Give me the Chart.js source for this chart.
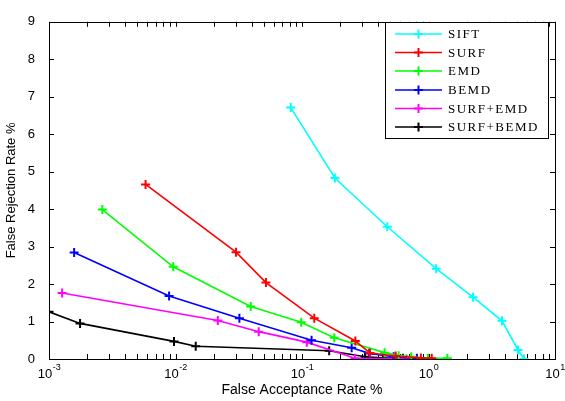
<!DOCTYPE html>
<html>
<head>
<meta charset="utf-8">
<script src="https://cdn.jsdelivr.net/npm/chart.js@4.4.1/dist/chart.umd.min.js"></script>
<style>
  html, body { margin: 0; padding: 0; background: #fff; }
  #wrap { width: 565px; height: 401px; }
</style>
</head>
<body>
<div id="wrap"><canvas id="c" width="565" height="401"></canvas></div>
<script>
// ---- data ----
const seriesNames = ['SIFT', 'SURF', 'EMD', 'BEMD', 'SURF+EMD', 'SURF+BEMD'];
const seriesColors = ['#00FFFF', '#FF0000', '#00FF00', '#0000FF', '#FF00FF', '#000000'];

const siftFAR = [0.0815, 0.182, 0.472, 1.15, 2.25, 3.81, 5.1, 5.69];
const siftFRR = [6.71, 4.83, 3.53, 2.41, 1.65, 1.02, 0.24, 0.0];

const surfFAR = [0.0058, 0.0301, 0.0519, 0.125, 0.264, 0.345, 0.55, 0.87, 1.06];
const surfFRR = [4.66, 2.85, 2.04, 1.09, 0.48, 0.16, 0.08, 0.03, 0.02];

const emdFAR = [0.00264, 0.0096, 0.0393, 0.0986, 0.18, 0.45, 0.58, 0.73, 0.99, 1.41];
const emdFRR = [3.99, 2.46, 1.40, 0.98, 0.57, 0.17, 0.09, 0.06, 0.02, 0.02];

const bemdFAR = [0.00158, 0.0089, 0.032, 0.119, 0.247, 0.34, 0.53, 0.81];
const bemdFRR = [2.84, 1.68, 1.09, 0.50, 0.30, 0.15, 0.06, 0.02];

const surfEmdFAR = [0.00127, 0.0216, 0.0455, 0.109, 0.262, 0.50, 0.67];
const surfEmdFRR = [1.76, 1.03, 0.73, 0.45, 0.02, 0.01, 0.0];

const surfBemdFAR = [0.001, 0.00176, 0.00973, 0.01445, 0.164, 0.315, 0.436, 0.628];
const surfBemdFRR = [1.26, 0.95, 0.47, 0.34, 0.22, 0.06, 0.03, 0.02];

const xTickValues = [0.001, 0.01, 0.1, 1, 10];
const xTickBase = '10';
const xTickExponents = ['-3', '-2', '-1', '0', '1'];
const yTickValues = [0, 1, 2, 3, 4, 5, 6, 7, 8, 9];

const xTitle = 'False Acceptance Rate %';
const yTitle = 'False Rejection Rate %';

// ---- build datasets ----
const allX = [siftFAR, surfFAR, emdFAR, bemdFAR, surfEmdFAR, surfBemdFAR];
const allY = [siftFRR, surfFRR, emdFRR, bemdFRR, surfEmdFRR, surfBemdFRR];
const datasets = seriesNames.map((name, i) => ({
  label: name,
  data: allX[i].map((xv, j) => ({ x: xv, y: allY[i][j] })),
  borderColor: seriesColors[i],
  backgroundColor: seriesColors[i],
  borderWidth: 1.6,
  pointStyle: 'cross',
  pointRadius: 4.5,
  pointBorderWidth: 2,
  pointHoverRadius: 4.5,
  tension: 0,
  fill: false
}));

const sansFamily = '"Liberation Sans", Arial, sans-serif';

// ---- plugin: MATLAB-like box with inward ticks, power-of-ten labels, in-plot legend ----
const matlabBox = {
  id: 'matlabBox',
  beforeDatasetsDraw(chart) {
    const { ctx, chartArea: { left, right, top, bottom }, scales: { x, y } } = chart;
    const L = 5;
    ctx.save();
    ctx.strokeStyle = '#000';
    ctx.lineWidth = 1;
    ctx.beginPath();
    for (let e = -3; e <= 1; e++) {
      for (let m = 1; m <= 9; m++) {
        const v = m * Math.pow(10, e);
        if (v > 10.0001) break;
        const px = Math.round(x.getPixelForValue(v)) + 0.5;
        if (px < left || px > right + 1) continue;
        ctx.moveTo(px, bottom); ctx.lineTo(px, bottom - L);
        ctx.moveTo(px, top); ctx.lineTo(px, top + L);
      }
    }
    yTickValues.forEach(v => {
      const py = Math.round(y.getPixelForValue(v)) + 0.5;
      ctx.moveTo(left, py); ctx.lineTo(left + L, py);
      ctx.moveTo(right, py); ctx.lineTo(right - L, py);
    });
    ctx.stroke();

    // x tick labels as 10 with raised exponent
    ctx.fillStyle = '#000';
    ctx.textBaseline = 'alphabetic';
    ctx.textAlign = 'left';
    xTickValues.forEach((v, i) => {
      const px = x.getPixelForValue(v);
      ctx.font = '13px ' + sansFamily;
      const wb = ctx.measureText(xTickBase).width;
      ctx.font = '9px ' + sansFamily;
      const we = ctx.measureText(xTickExponents[i]).width;
      const x0 = px - (wb + we) / 2;
      ctx.font = '13px ' + sansFamily;
      ctx.fillText(xTickBase, x0, bottom + 19);
      ctx.font = '9px ' + sansFamily;
      ctx.fillText(xTickExponents[i], x0 + wb + 0.5, bottom + 11);
    });
    ctx.restore();
  },
  afterDatasetsDraw(chart) {
    const { ctx, chartArea: { left, right, top, bottom } } = chart;
    ctx.save();
    ctx.strokeStyle = '#000';
    ctx.lineWidth = 1;
    ctx.strokeRect(Math.round(left) + 0.5, Math.round(top) + 0.5,
                   Math.round(right - left), Math.round(bottom - top));
    // legend
    const bx = 385.5, by = 22.5, bw = 163, bh = 116;
    ctx.fillStyle = '#fff';
    ctx.fillRect(bx, by, bw, bh);
    ctx.strokeRect(bx, by, bw, bh);
    const rowY = [34, 52.5, 71, 90, 108.5, 127];
    ctx.font = '13px "Liberation Serif", "Times New Roman", serif';
    ctx.textBaseline = 'middle';
    ctx.textAlign = 'left';
    try { ctx.letterSpacing = '1.5px'; } catch (e) {}
    chart.data.datasets.forEach((ds, i) => {
      const yy = rowY[i];
      ctx.strokeStyle = ds.borderColor;
      ctx.lineWidth = 1.6;
      ctx.beginPath();
      ctx.moveTo(395, yy); ctx.lineTo(442, yy);
      ctx.stroke();
      ctx.lineWidth = 2;
      ctx.beginPath();
      ctx.moveTo(418.5, yy - 4.5); ctx.lineTo(418.5, yy + 4.5);
      ctx.moveTo(414, yy); ctx.lineTo(423, yy);
      ctx.stroke();
      ctx.fillStyle = '#000';
      ctx.fillText(ds.label, 448, yy + 1);
    });
    ctx.restore();
  }
};

const axisFont = { family: sansFamily, size: 13 };

new Chart(document.getElementById('c'), {
  type: 'line',
  data: { datasets },
  options: {
    responsive: false,
    animation: false,
    devicePixelRatio: 1,
    layout: { padding: { top: 15, right: 10, left: 0, bottom: 0 } },
    plugins: {
      legend: { display: false },
      tooltip: { enabled: false }
    },
    scales: {
      x: {
        type: 'logarithmic',
        min: 0.001,
        max: 10,
        grid: { display: false, drawTicks: false },
        border: { display: false },
        afterBuildTicks: s => { s.ticks = xTickValues.map(v => ({ value: v })); },
        afterFit: s => { s.height = 42; s.paddingLeft = 0; s.paddingRight = 0; },
        ticks: {
          autoSkip: false,
          maxRotation: 0,
          padding: 4,
          color: '#000',
          font: axisFont,
          callback: () => ''
        },
        title: {
          display: true,
          text: xTitle,
          color: '#000',
          font: { family: sansFamily, size: 14 },
          padding: { top: 2, bottom: 2 }
        }
      },
      y: {
        type: 'linear',
        min: 0,
        max: 9,
        grid: { display: false, drawTicks: false },
        border: { display: false },
        afterBuildTicks: s => { s.ticks = yTickValues.map(v => ({ value: v })); },
        afterFit: s => { s.width = 49; },
        ticks: {
          padding: 14,
          color: '#000',
          font: axisFont,
          callback: v => String(v)
        },
        title: {
          display: true,
          text: yTitle,
          color: '#000',
          font: axisFont,
          padding: { top: 4, bottom: 0 }
        }
      }
    }
  },
  plugins: [matlabBox]
});
</script>
</body>
</html>
